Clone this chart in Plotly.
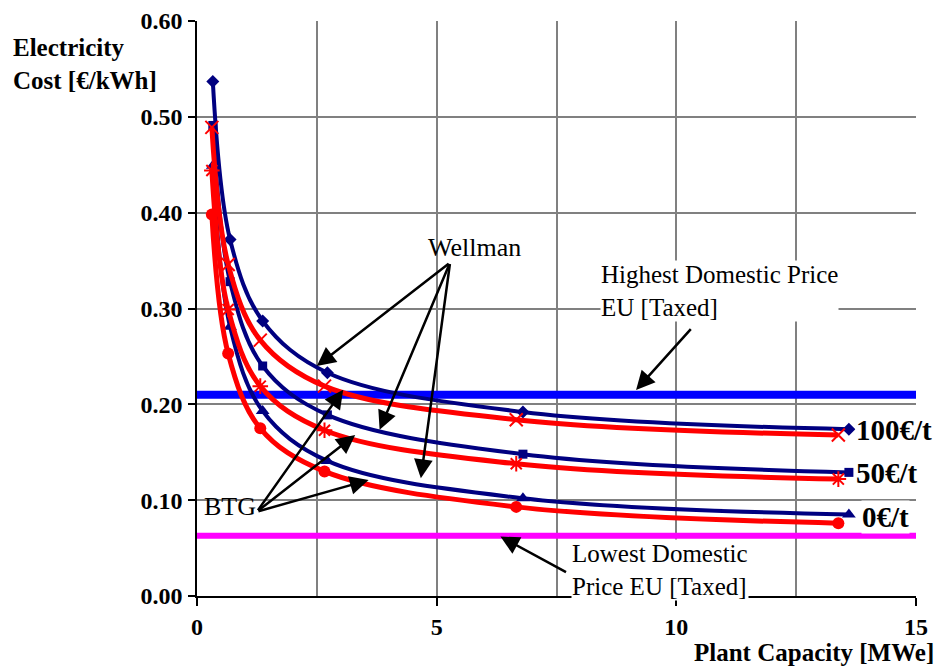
import plotly.graph_objects as go

# ---- data ----
wellman_x = [0.33, 0.69, 1.37, 2.72, 6.8, 13.6]
wellman_100 = [0.537, 0.372, 0.287, 0.233, 0.192, 0.174]
wellman_50 = [0.491, 0.328, 0.240, 0.189, 0.148, 0.129]
wellman_0 = [0.449, 0.281, 0.193, 0.141, 0.102, 0.085]

btg_x = [0.31, 0.65, 1.32, 2.66, 6.66, 13.38]
btg_100 = [0.489, 0.346, 0.267, 0.219, 0.184, 0.168]
btg_50 = [0.444, 0.299, 0.219, 0.173, 0.138, 0.122]
btg_0 = [0.398, 0.253, 0.175, 0.130, 0.093, 0.076]

price_x = [0, 15]
highest_price = [0.21, 0.21]
lowest_price = [0.063, 0.063]

x_ticks = [0, 5, 10, 15]
y_ticks = [0.0, 0.1, 0.2, 0.3, 0.4, 0.5, 0.6]

NAVY = "#000080"
RED = "#FF0000"
SERIF = "Liberation Serif, Times New Roman, serif"

fig = go.Figure()

# horizontal reference lines
fig.add_trace(go.Scatter(x=price_x, y=highest_price, mode="lines",
                         line=dict(color="#0000FF", width=8), showlegend=False))
fig.add_trace(go.Scatter(x=price_x, y=lowest_price, mode="lines",
                         line=dict(color="#FF00FF", width=6), showlegend=False))

# Wellman curves (navy)
for ys, sym, size in [(wellman_100, "diamond", 10), (wellman_50, "square", 9),
                      (wellman_0, "triangle-up", 12)]:
    fig.add_trace(go.Scatter(x=wellman_x, y=ys, mode="lines+markers",
                             line=dict(color=NAVY, width=4, shape="spline", smoothing=1.0),
                             marker=dict(symbol=sym, size=size, color=NAVY),
                             showlegend=False))

# BTG curves (red)
for ys, sym, size, mline in [(btg_100, "x-thin", 13, 2), (btg_50, "asterisk", 13, 2),
                             (btg_0, "circle", 12, 0)]:
    fig.add_trace(go.Scatter(x=btg_x, y=ys, mode="lines+markers",
                             line=dict(color=RED, width=5, shape="spline", smoothing=1.0),
                             marker=dict(symbol=sym, size=size, color=RED,
                                         line=dict(color=RED, width=mline)),
                             showlegend=False))

annotations = []

def arrow(x, y, ax, ay):
    annotations.append(dict(x=x, y=y, ax=ax, ay=ay, xref="x", yref="y",
                            axref="x", ayref="y", text="", showarrow=True,
                            arrowhead=2, arrowsize=1.5, arrowwidth=2.5,
                            arrowcolor="black", standoff=0, startstandoff=0))

# Wellman arrows
wt = (5.28, 0.348)
for hx, hy in [(2.50, 0.240), (3.81, 0.1735), (4.67, 0.123)]:
    arrow(hx, hy, *wt)
# BTG arrows
bt = (1.25, 0.088)
for hx, hy in [(3.05, 0.2153), (3.30, 0.168), (3.58, 0.121)]:
    arrow(hx, hy, *bt)
# price arrows
arrow(9.16, 0.215, 10.33, 0.280)
arrow(6.33, 0.062, 7.73, 0.024)

def label(x, y, text, size, bold=False, xanchor="left", bg=None, align="left", yanchor="middle"):
    annotations.append(dict(x=x, y=y, xref="x", yref="y", text=text, showarrow=False,
                            xanchor=xanchor, yanchor=yanchor, align=align,
                            bgcolor=bg, borderpad=0,
                            font=dict(family=SERIF, size=size, color="black",
                                      weight="bold" if bold else "normal")))

label(4.8, 0.364, "Wellman", 26)
label(0.12, 0.093, "BTG", 26)
label(8.4, 0.318, "Highest Domestic Price<br>EU [Taxed]", 25, bg="white")
label(7.8, 0.059, "Lowest Domestic<br>Price EU [Taxed]", 25, bg="white", yanchor="top")
label(13.72, 0.173, "100€/t", 29, bold=True, bg="white")
label(13.72, 0.128, "50€/t", 29, bold=True, bg="white")
label(13.85, 0.082, "0€/t", 29, bold=True, bg="white")

# axis titles
annotations.append(dict(x=-0.258, y=0.925, xref="paper", yref="paper",
                        text="Electricity<br>Cost [€/kWh]", showarrow=False,
                        xanchor="left", yanchor="middle", align="left",
                        font=dict(family=SERIF, size=25, color="black", weight="bold")))
annotations.append(dict(x=1.028, y=-0.098, xref="paper", yref="paper",
                        text="Plant Capacity [MWe]", showarrow=False,
                        xanchor="right", yanchor="middle",
                        font=dict(family=SERIF, size=25, color="black", weight="bold")))

# page body has an 8px margin, so the figure is shifted in by 8px
fig.update_layout(
    width=936, height=658,
    margin=dict(l=189, r=28, t=13, b=70),
    paper_bgcolor="white", plot_bgcolor="white",
    annotations=annotations,
    showlegend=False,
)

fig.update_xaxes(range=[0, 15], tickvals=x_ticks, ticktext=[str(v) for v in x_ticks],
                 ticks="outside", ticklen=8, tickcolor="black", tickwidth=1.5,
                 showline=True, linecolor="black", linewidth=1.5,
                 showgrid=True, gridcolor="#808080", gridwidth=1.5,
                 minor=dict(dtick=2.5, showgrid=True, gridcolor="#808080", gridwidth=1.5, ticks=""),
                 zeroline=False, automargin=False,
                 tickfont=dict(family=SERIF, size=24, color="black", weight="bold"))
fig.update_yaxes(range=[0, 0.6], tickvals=y_ticks, ticktext=[f"{v:.2f}" for v in y_ticks],
                 ticks="outside", ticklen=7, tickcolor="black", tickwidth=1.5,
                 showline=True, linecolor="black", linewidth=1.5,
                 showgrid=True, gridcolor="#808080", gridwidth=1.5,
                 zeroline=False, ticklabelstandoff=1, automargin=False,
                 tickfont=dict(family=SERIF, size=24, color="black", weight="bold"))

fig.write_html("out.html")
